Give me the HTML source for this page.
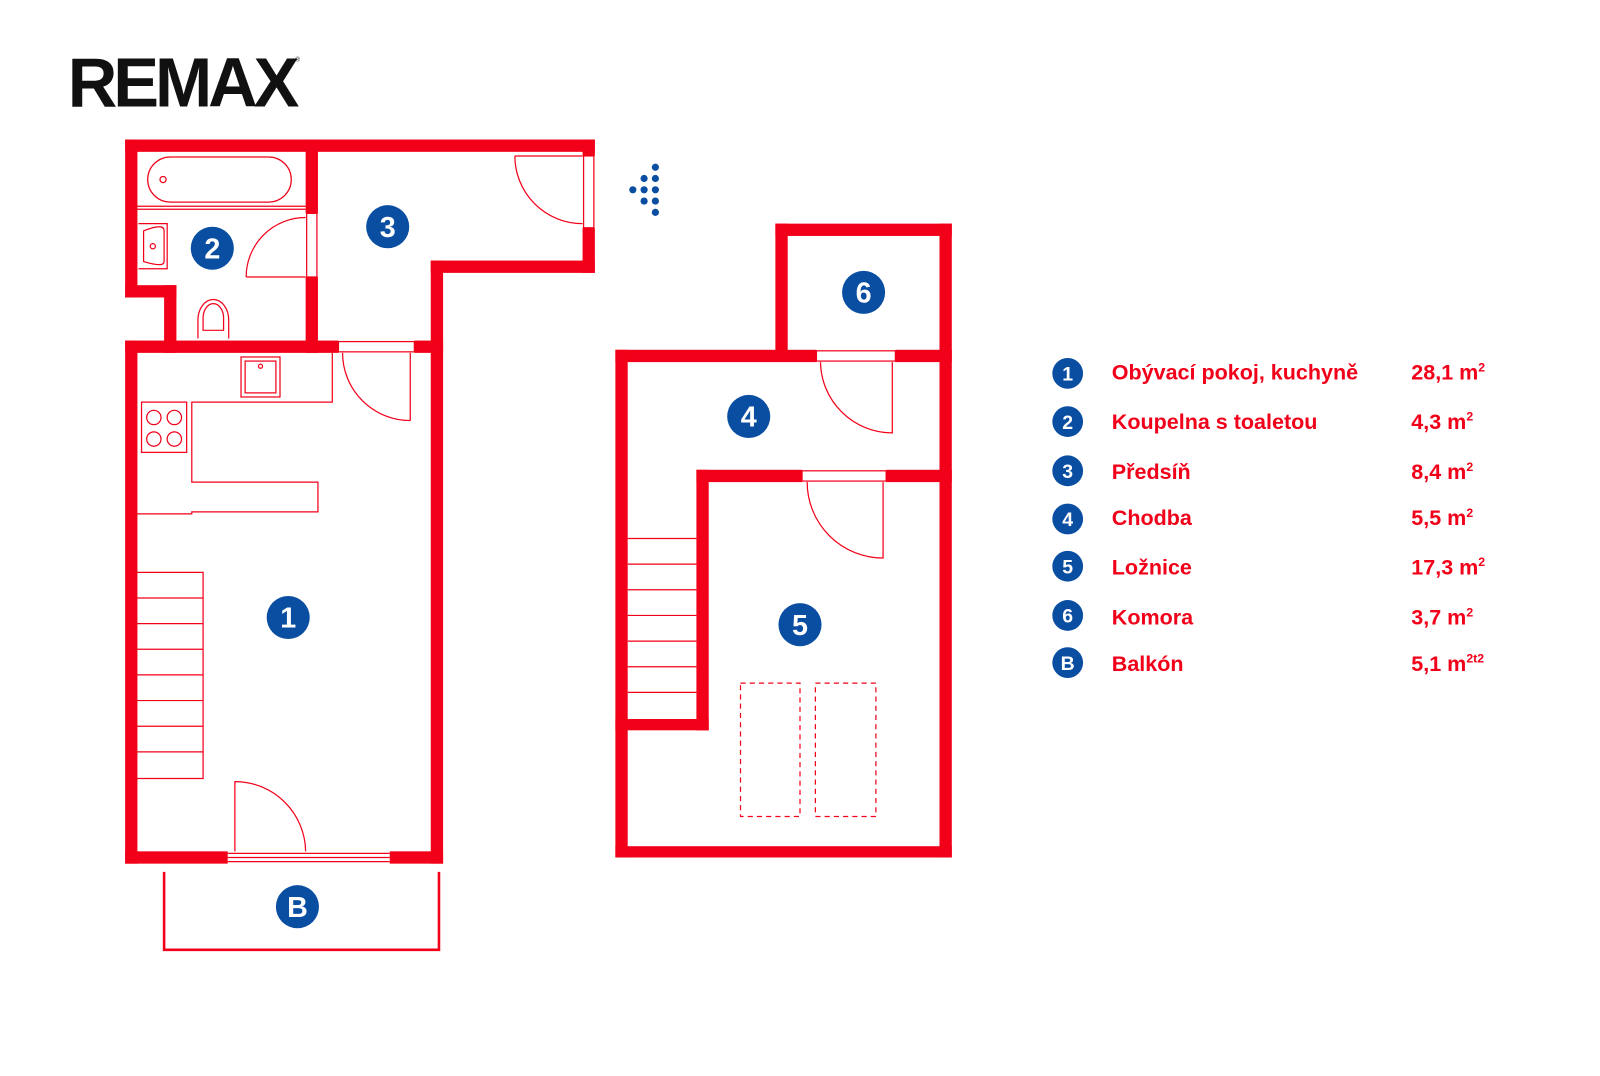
<!DOCTYPE html>
<html><head><meta charset="utf-8"><style>html,body{margin:0;padding:0;background:#fff;}svg{display:block}</style></head>
<body>
<svg width="1600" height="1076" viewBox="0 0 1560 1049" xmlns="http://www.w3.org/2000/svg" font-family="Liberation Sans, sans-serif">
<rect width="1560" height="1049" fill="#fff"/>
<text x="66" y="104" font-size="68" font-weight="bold" fill="#111" textLength="222" lengthAdjust="spacingAndGlyphs" letter-spacing="-4">REMAX</text>
<text x="288" y="60" font-size="6" fill="#111">®</text>
<g fill="#f20019">
<rect x="122" y="136" width="458" height="12"/>
<rect x="568" y="136" width="12" height="16"/>
<rect x="568" y="222" width="12" height="44"/>
<rect x="420" y="254" width="160" height="12"/>
<rect x="420" y="254" width="12" height="588"/>
<rect x="122" y="136" width="12" height="154"/>
<rect x="122" y="278" width="50" height="12"/>
<rect x="160" y="278" width="12" height="66"/>
<rect x="122" y="332" width="208" height="12"/>
<rect x="404" y="332" width="28" height="12"/>
<rect x="298" y="136" width="12" height="72"/>
<rect x="298" y="270" width="12" height="74"/>
<rect x="122" y="332" width="12" height="510"/>
<rect x="122" y="830" width="100" height="12"/>
<rect x="380" y="830" width="52" height="12"/>
<rect x="756" y="218" width="172" height="12"/>
<rect x="756" y="218" width="12" height="132"/>
<rect x="916" y="218" width="12" height="618"/>
<rect x="600" y="341" width="196" height="12"/>
<rect x="873" y="341" width="55" height="12"/>
<rect x="600" y="341" width="12" height="495"/>
<rect x="600" y="825" width="328" height="11"/>
<rect x="679" y="458" width="103" height="12"/>
<rect x="864" y="458" width="64" height="12"/>
<rect x="679" y="458" width="12" height="254"/>
<rect x="600" y="701" width="91" height="11"/>
</g>
<g fill="none" stroke="#f20019" stroke-width="1.2">
<rect x="569" y="152" width="10" height="70"/>
<rect x="330" y="333" width="74" height="10"/>
<rect x="299" y="208" width="10" height="62"/>
<rect x="796" y="342" width="77" height="10"/>
<rect x="782" y="459" width="82" height="10"/>
<path d="M222,832H380M222,836H380M222,840H380"/>
<rect x="144" y="153" width="140" height="44" rx="22"/>
<circle cx="159" cy="175" r="3"/>
<path d="M134,201H298M134,204H298"/>
<path d="M135,218h28v44h-28"/>
<path d="M140,225q20,-8 20,0v30q0,6 -20,0z"/>
<circle cx="149" cy="240" r="2.5"/>
<path d="M193,330v-18a15,20 0 0 1 30,0v18"/>
<path d="M198,322v-12a10,14 0 0 1 20,0v12z"/>
<path d="M240,270H298M240,270A58,58 0 0 1 298,212"/>
<path d="M568,152H502M502,152A66,66 0 0 0 568,218"/>
<path d="M400,344V410M400,410A66,66 0 0 1 334,344"/>
<path d="M324,344V392H187V470H310V499H187V501H134"/>
<rect x="235" y="348" width="38" height="39"/>
<rect x="239" y="352" width="30" height="31"/>
<circle cx="254" cy="357" r="2"/>
<rect x="138" y="392" width="44" height="49"/>
<circle cx="150" cy="407" r="7"/><circle cx="170" cy="407" r="7"/><circle cx="150" cy="428" r="7"/><circle cx="170" cy="428" r="7"/>
<path d="M134,558H198V759H134M134,583H198M134,608H198M134,633H198M134,658H198M134,683H198M134,708H198M134,733H198"/>
<path d="M229,830V762A69,69 0 0 1 298,830"/>
<path d="M870,353V422A70,70 0 0 1 800,353"/>
<path d="M861,470V544A74,74 0 0 1 787,470"/>
<path d="M612,525H679M612,550H679M612,575H679M612,600H679M612,625H679M612,650H679M612,675H679"/>
<rect x="722" y="666" width="58" height="130" stroke-dasharray="5,4"/>
<rect x="795" y="666" width="59" height="130" stroke-dasharray="5,4"/>
</g>
<path d="M160,850V926H428V850" fill="none" stroke="#f20019" stroke-width="2.5"/>
<g fill="#0a4ea2">
<circle cx="281" cy="602" r="21"/><circle cx="207" cy="242" r="21"/><circle cx="378" cy="221" r="21"/>
<circle cx="730" cy="406" r="21"/><circle cx="780" cy="609" r="21"/><circle cx="842" cy="285" r="21"/><circle cx="290" cy="884" r="21"/>
<circle cx="639" cy="163" r="3.5"/><circle cx="639" cy="174" r="3.5"/><circle cx="639" cy="185" r="3.5"/><circle cx="639" cy="196" r="3.5"/><circle cx="639" cy="207" r="3.5"/>
<circle cx="628" cy="174" r="3.5"/><circle cx="628" cy="185" r="3.5"/><circle cx="628" cy="196" r="3.5"/><circle cx="617" cy="185" r="3.5"/>
<circle cx="1041" cy="364" r="15"/><circle cx="1041" cy="411" r="15"/><circle cx="1041" cy="459" r="15"/><circle cx="1041" cy="506" r="15"/><circle cx="1041" cy="552" r="15"/><circle cx="1041" cy="600" r="15"/><circle cx="1041" cy="646" r="15"/>
</g>
<g fill="#fff" font-weight="bold" font-size="28" text-anchor="middle">
<text x="281" y="612">1</text><text x="207" y="252">2</text><text x="378" y="231">3</text>
<text x="730" y="416">4</text><text x="780" y="619">5</text><text x="842" y="295">6</text><text x="290" y="894">B</text>
</g>
<g fill="#fff" font-weight="bold" font-size="19" text-anchor="middle">
<text x="1041" y="371">1</text><text x="1041" y="418">2</text><text x="1041" y="466">3</text><text x="1041" y="513">4</text><text x="1041" y="559">5</text><text x="1041" y="607">6</text><text x="1041" y="653">B</text>
</g>
<g fill="#f20019" font-weight="bold" font-size="21">
<text x="1084" y="370">Obývací pokoj, kuchyně</text>
<text x="1084" y="418">Koupelna s toaletou</text>
<text x="1084" y="467">Předsíň</text>
<text x="1084" y="512">Chodba</text>
<text x="1084" y="560">Ložnice</text>
<text x="1084" y="609">Komora</text>
<text x="1084" y="654">Balkón</text>
<text x="1376" y="370">28,1 m<tspan font-size="12" dy="-8">2</tspan></text>
<text x="1376" y="418">4,3 m<tspan font-size="12" dy="-8">2</tspan></text>
<text x="1376" y="467">8,4 m<tspan font-size="12" dy="-8">2</tspan></text>
<text x="1376" y="512">5,5 m<tspan font-size="12" dy="-8">2</tspan></text>
<text x="1376" y="560">17,3 m<tspan font-size="12" dy="-8">2</tspan></text>
<text x="1376" y="609">3,7 m<tspan font-size="12" dy="-8">2</tspan></text>
<text x="1376" y="654">5,1 m<tspan font-size="12" dy="-8">2t2</tspan></text>
</g>
</svg>
</body></html>
